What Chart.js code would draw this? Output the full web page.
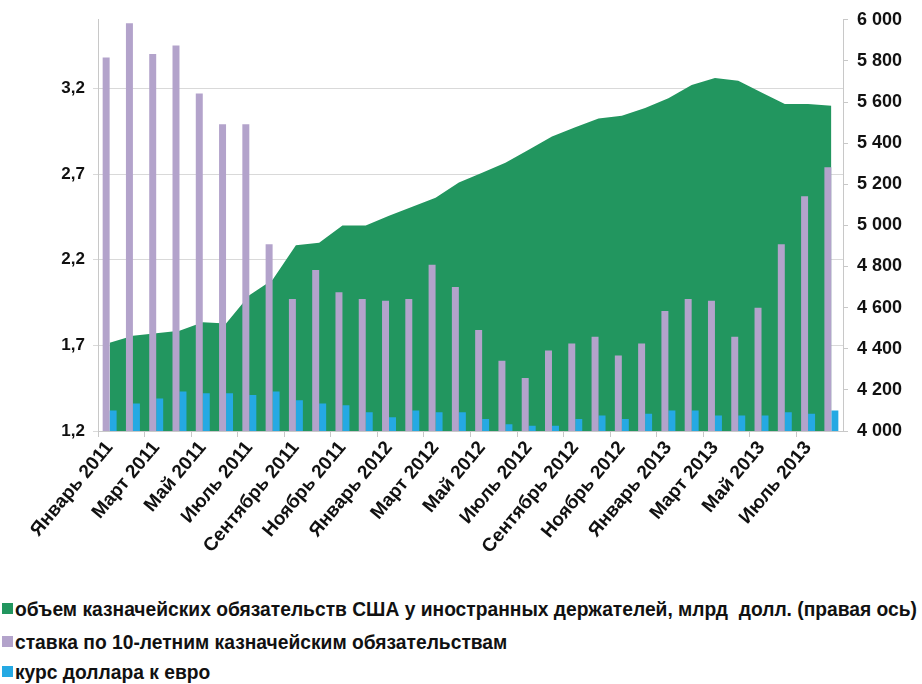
<!DOCTYPE html>
<html>
<head>
<meta charset="utf-8">
<script src="https://cdn.jsdelivr.net/npm/chart.js@4/dist/chart.umd.min.js"></script>
<style>
  body { margin: 0; background: #fff; width: 922px; height: 684px; overflow: hidden; position: relative; }
  #chart { position: absolute; left: 0; top: 0; }
  .row { position: absolute; left: 0; height: 30px; }
  .row .box { position: absolute; left: 2px; width: 11px; height: 11px; top: 9px; }
  .row .txt { position: absolute; left: 15px; top: 0; line-height: 30px; white-space: pre; transform-origin: 0 50%;
    font-family: "Liberation Sans", Arial, sans-serif; font-weight: bold; font-size: 20px; color: #111; }
</style>
</head>
<body>
<canvas id="chart" width="922" height="590"></canvas>
<div class="row" style="top:594px"><span class="box" style="background:#22965f"></span><span class="txt">объем казначейских обязательств США у иностранных держателей, млрд  долл. (правая ось)</span></div>
<div class="row" style="top:627px"><span class="box" style="background:#b3a3cb"></span><span class="txt">ставка по 10-летним казначейским обязательствам</span></div>
<div class="row" style="top:657px"><span class="box" style="background:#25a9e3"></span><span class="txt">курс доллара к евро</span></div>
<script>
// Months Jan 2011 - Aug 2013
const months = [
  "Январь 2011", "Февраль 2011", "Март 2011", "Апрель 2011", "Май 2011", "Июнь 2011",
  "Июль 2011", "Август 2011", "Сентябрь 2011", "Октябрь 2011", "Ноябрь 2011", "Декабрь 2011",
  "Январь 2012", "Февраль 2012", "Март 2012", "Апрель 2012", "Май 2012", "Июнь 2012",
  "Июль 2012", "Август 2012", "Сентябрь 2012", "Октябрь 2012", "Ноябрь 2012", "Декабрь 2012",
  "Январь 2013", "Февраль 2013", "Март 2013", "Апрель 2013", "Май 2013", "Июнь 2013",
  "Июль 2013", "Август 2013"
];

// treasuries held by foreigners, bn USD (right axis)
const holdings = [4429, 4463, 4476, 4487, 4529, 4523, 4660, 4736, 4903, 4916, 5000, 5000,
  5047, 5091, 5135, 5209, 5256, 5305, 5368, 5433, 5477, 5520, 5533, 5571,
  5619, 5683, 5717, 5704, 5646, 5591, 5591, 5582];

// 10y yield
const yield10 = [3.38, 3.58, 3.40, 3.45, 3.17, 2.99, 2.99, 2.29, 1.97, 2.14, 2.01, 1.97,
  1.96, 1.97, 2.17, 2.04, 1.79, 1.61, 1.51, 1.67, 1.71, 1.75, 1.64, 1.71,
  1.90, 1.97, 1.96, 1.75, 1.92, 2.29, 2.57, 2.74];

// USD/EUR rate
const eurusd = [1.32, 1.36, 1.39, 1.43, 1.42, 1.42, 1.41, 1.43, 1.38, 1.36, 1.35, 1.31,
  1.28, 1.32, 1.31, 1.31, 1.27, 1.24, 1.23, 1.23, 1.27, 1.29, 1.27, 1.30,
  1.32, 1.32, 1.29, 1.29, 1.29, 1.31, 1.30, 1.32];

const leftTicks = [1.2, 1.7, 2.2, 2.7, 3.2];

const fontFamily = "'Liberation Sans', Arial, sans-serif";
const gridColor = "#d9d9d9";

// squeeze legend text to the narrow look of the original
const txts = document.querySelectorAll(".txt");
const k = 902 / txts[0].getBoundingClientRect().width;
txts.forEach(t => { t.style.transform = `scaleX(${k})`; });

new Chart(document.getElementById("chart"), {
  data: {
    labels: months,
    datasets: [
      {
        type: "bar",
        label: "ставка по 10-летним казначейским обязательствам",
        data: yield10,
        backgroundColor: "#b3a3cb",
        yAxisID: "y",
        order: 1,
        categoryPercentage: 0.6,
        barPercentage: 1.0
      },
      {
        type: "bar",
        label: "курс доллара к евро",
        data: eurusd,
        backgroundColor: "#25a9e3",
        yAxisID: "y",
        order: 2,
        categoryPercentage: 0.6,
        barPercentage: 1.0
      },
      {
        type: "line",
        label: "объем казначейских обязательств США у иностранных держателей",
        data: holdings,
        backgroundColor: "#22965f",
        borderWidth: 0,
        pointRadius: 0,
        tension: 0,
        fill: "start",
        yAxisID: "y1",
        order: 3
      }
    ]
  },
  options: {
    responsive: false,
    animation: false,
    layout: { padding: { top: 19, left: 0, right: 0, bottom: 0 } },
    plugins: { legend: { display: false }, tooltip: { enabled: false } },
    scales: {
      x: {
        offset: true,
        afterFit: (s) => { s.height = 159; },
        border: { display: true, color: "#c8c8c8" },
        grid: {
          offset: true,
          drawOnChartArea: false,
          tickLength: 6,
          tickColor: (c) => (c.index % 2 === 0 ? "#c8c8c8" : "rgba(0,0,0,0)")
        },
        ticks: {
          autoSkip: false,
          minRotation: 50,
          maxRotation: 50,
          padding: 0,
          color: "#111",
          font: { family: fontFamily, weight: "bold", size: 19 },
          callback: (v, i) => (i % 2 === 0 ? months[i] : "")
        }
      },
      y: {
        position: "left",
        min: 1.2,
        max: 3.6,
        afterFit: (s) => { s.width = 98; },
        afterBuildTicks: (s) => { s.ticks = leftTicks.map(v => ({ value: v })); },
        border: { display: true, color: "#c8c8c8" },
        grid: { color: gridColor, tickLength: 5 },
        ticks: {
          padding: 8,
          color: "#111",
          font: { family: fontFamily, weight: "bold", size: 17 },
          callback: (v) => Number(v).toFixed(1).replace(".", ",")
        }
      },
      y1: {
        position: "right",
        min: 4000,
        max: 6000,
        afterFit: (s) => { s.width = 79; },
        border: { display: true, color: "#c8c8c8" },
        grid: { drawOnChartArea: false, color: "#c8c8c8", tickLength: 5 },
        ticks: {
          stepSize: 200,
          padding: 9,
          color: "#111",
          font: { family: fontFamily, weight: "bold", size: 18 },
          callback: (v) => String(v).replace(/\B(?=(\d{3})+(?!\d))/g, " ")
        }
      }
    }
  }
});
</script>
</body>
</html>
